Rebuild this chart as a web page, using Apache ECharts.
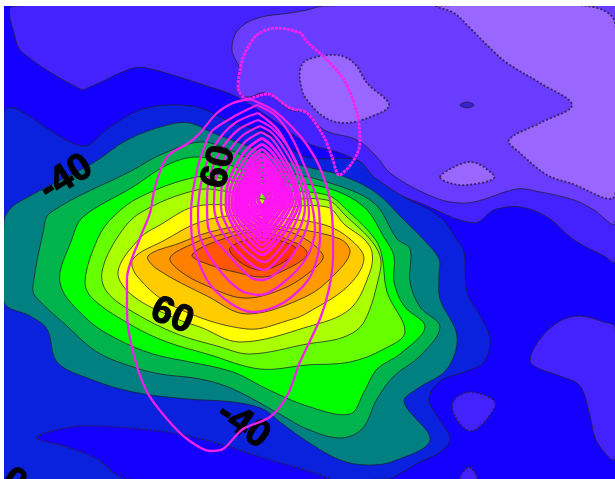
<!DOCTYPE html>
<html><head><meta charset="utf-8">
<style>html,body{margin:0;padding:0;background:#fff}#c{width:615px;height:479px;filter:blur(.6px)}</style>
<script src="https://cdn.jsdelivr.net/npm/echarts@6/dist/echarts.min.js"></script>
</head><body><div id="c"></div>
<script>
// Filled contour levels, outline points
const indigoTop=[[14,6],[15,37],[23,53],[80,89],[90,87],[130,69],[147,68],[213,88],[237,97],[270,118],[307,143],[340,153],[360,163],[384,187],[420,203],[474,223],[494,210],[520,207],[547,217],[574,240],[604,256],[615,262],[615,6]];
const purpleTop=[[232,50],[238,30],[258,18],[290,13],[307,10],[324,6],[615,6],[615,223],[594,210],[574,200],[540,192],[517,189],[474,202],[450,202],[424,193],[390,173],[377,157],[357,140],[324,130],[307,113],[290,110],[265,93],[247,97],[238,90],[240,70]];
const darkSpot=[[460,105],[467,102],[474,105],[467,108]];
const lightTop=[[437,6],[454,13],[470,28],[490,48],[507,63],[540,83],[572,105],[540,123],[509,140],[520,153],[547,175],[570,183],[615,195],[615,23],[587,6]];
const lightBlob=[[300,70],[307,60],[337,55],[354,63],[367,83],[389,105],[370,117],[344,123],[324,117],[307,100],[302,90]];
const lightSmall=[[440,177],[454,167],[470,162],[484,167],[494,178],[467,185],[450,183]];
const indigoRight=[[530,361],[540,339],[560,321],[580,316],[604,322],[615,327],[615,459],[597,442],[590,416],[580,386],[560,376],[540,369]];
const indigoSmall=[[452,407],[457,397],[472,392],[495,402],[487,419],[472,431],[460,424]];
const indigoTip=[[460,479],[469,467],[477,479]];
const darkBlue=[[4,113],[82,146],[110,127],[140,110],[170,105],[200,108],[233,123],[267,133],[307,157],[357,160],[374,177],[404,197],[440,217],[457,240],[464,252],[467,292],[480,316],[490,339],[484,362],[467,371],[440,381],[429,399],[439,419],[450,439],[440,452],[420,462],[394,477],[390,479],[4,479]];
const blueInner=[[37,438],[60,429],[93,426],[167,432],[213,442],[267,459],[308,471],[327,479],[127,479],[97,459],[67,447]];
const teal=[[4,222],[7,213],[17,203],[93,163],[127,140],[167,125],[190,123],[213,133],[240,143],[277,158],[307,167],[340,175],[375,192],[404,220],[424,240],[439,259],[439,276],[440,299],[457,336],[447,369],[417,389],[404,402],[430,440],[394,461],[367,465],[340,460],[308,442],[280,422],[263,409],[233,402],[187,399],[133,392],[90,379],[57,362],[47,329],[30,316],[4,302]];
const green=[[43,233],[50,213],[133,170],[160,155],[200,142],[230,150],[270,168],[327,182],[374,203],[397,239],[410,249],[410,282],[420,307],[440,327],[420,356],[394,376],[377,399],[362,429],[340,438],[307,429],[283,416],[233,389],[200,379],[160,374],[130,366],[97,352],[67,326],[35,296],[33,286]];
const lime=[[72,239],[83,217],[133,187],[167,165],[197,157],[230,165],[270,180],[327,188],[364,207],[385,239],[394,256],[394,282],[404,306],[425,327],[400,354],[377,369],[364,392],[350,414],[307,406],[267,389],[233,372],[190,362],[153,354],[117,339],[87,319],[60,283]];
const chartreuse=[[85,281],[98,238],[113,217],[140,197],[197,177],[230,180],[270,190],[327,195],[350,213],[375,239],[382,256],[387,292],[405,332],[384,349],[350,362],[307,365],[260,369],[207,354],[167,342],[133,326],[93,299]];
const yellowGreen=[[102,272],[117,238],[140,213],[197,190],[230,192],[270,200],[327,200],[347,217],[370,239],[380,256],[380,272],[364,322],[344,337],[307,344],[250,354],[217,346],[177,334],[133,312],[107,292]];
const yellow=[[118,272],[140,238],[160,225],[193,207],[230,205],[270,208],[327,207],[345,225],[364,239],[372,252],[370,272],[350,309],[307,327],[240,342],[200,327],[177,319],[133,296]];
const gold=[[133,259],[165,240],[200,222],[240,215],[280,218],[325,225],[350,239],[364,259],[347,287],[307,313],[293,319],[247,329],[173,306],[137,276]];
const orange=[[148,256],[180,243],[210,232],[250,225],[290,228],[340,239],[350,252],[337,272],[307,296],[247,314],[207,296],[157,269]];
const deepOrange=[[170,258],[190,245],[215,236],[250,230],[290,232],[323,255],[310,272],[280,290],[243,298],[205,285],[180,271]];
const redOrange=[[192,255],[220,240],[260,232],[300,245],[307,255],[285,270],[263,277],[235,272],[210,265]];
const red=[[230,248],[260,238],[295,247],[290,258],[262,270],[240,262]];
// Magenta contours
const mTop=[[238,83],[243,58],[257,35],[277,28],[300,33],[307,42],[324,57],[344,80],[357,113],[360,143],[352,163],[339,175],[332,157],[324,137],[307,113],[290,108],[267,94],[247,99],[238,88]];
const m1=[[250,99],[233,103],[217,113],[200,133],[190,142],[167,157],[155,187],[150,213],[140,238],[127,279],[127,312],[133,352],[147,392],[167,419],[187,439],[210,451],[223,449],[243,429],[270,417],[287,396],[300,362],[320,319],[329,289],[333,256],[333,239],[330,200],[320,168],[307,145],[293,128],[273,110]];
const m2=[[257,105],[233,117],[213,130],[207,140],[197,170],[191,213],[192,238],[207,280],[230,303],[253,312],[283,303],[310,277],[320,237],[318,203],[307,172],[292,138],[275,115]];
const m3=[[258,113],[235,123],[215,145],[203,175],[198,213],[200,237],[217,267],[240,290],[260,295],[283,283],[307,257],[315,230],[310,197],[297,165],[278,130]];
const m4=[[258,120],[238,130],[221,150],[210,175],[207,200],[208,227],[227,253],[250,277],[262,280],[283,267],[303,237],[309,213],[303,180],[290,150],[272,128]];
const m5=[[260,126],[242,136],[226,156],[216,180],[214,205],[220,228],[236,250],[255,267],[264,270],[281,256],[298,232],[305,207],[298,175],[285,150],[272,133]];
const m6=[[261,132],[245,142],[231,162],[222,185],[221,207],[228,228],[243,248],[258,260],[265,262],[280,248],[294,226],[301,205],[295,178],[283,155],[272,139]];
const m7=[[262,138],[248,148],[235,167],[227,188],[226,206],[233,226],[247,244],[262,255],[278,241],[291,222],[299,203],[293,180],[281,158],[271,145]];
const m8=[[262,144],[250,153],[238,171],[230,190],[229,206],[236,224],[250,240],[262,250],[276,237],[289,219],[296,201],[291,182],[279,162],[270,150]];
const m9=[[262,149],[252,157],[241,174],[233,192],[232,206],[239,222],[252,236],[262,245],[274,233],[286,216],[293,200],[288,184],[278,166],[269,155]];
const m10=[[262,154],[253,161],[244,177],[236,193],[235,206],[242,220],[254,232],[262,240],[272,229],[283,214],[290,199],[285,186],[276,170],[268,160]];
const m11=[[262,159],[255,165],[246,180],[239,194],[238,206],[245,218],[256,228],[262,235],[270,225],[280,211],[287,198],[282,187],[274,173],[267,164]];
const m12=[[262,164],[256,169],[248,183],[242,195],[241,206],[248,216],[258,224],[262,230],[268,221],[277,209],[284,198],[279,188],[272,176],[266,168]];
const m13=[[262,169],[257,174],[250,186],[245,196],[244,206],[251,214],[259,220],[262,225],[267,217],[274,207],[281,197],[276,189],[270,179],[266,173]];
const m14=[[262,174],[258,178],[252,188],[248,197],[247,205],[253,212],[262,220],[266,213],[271,205],[278,197],[273,190],[268,182],[265,177]];
const m15=[[262,179],[258,184],[254,190],[251,198],[251,204],[256,210],[262,215],[265,209],[269,203],[275,197],[270,191],[266,185]];
const m16=[[262,184],[259,188],[256,193],[254,199],[255,204],[259,208],[262,211],[265,206],[268,201],[271,197],[267,192],[264,188]];
const m17=[[262,189],[259,194],[258,200],[260,204],[262,207],[265,203],[267,198],[264,193]];
// Contour labels
const labelTexts=['-40','60','60','-40','0'];
const labelPoints=[[66,178],[219,167],[172,316],[243,425],[14,483]];
const labelAngles=[32,76,-22,-35,-30];
const labelAbove=[0,1,0,0,0];

const fills=[
 [indigoTop,'#4422ff',0],[purpleTop,'#6a3cff',0],[darkSpot,'#3a22cc',0],
 [lightTop,'#9966ff',1],[lightBlob,'#9966ff',1],[lightSmall,'#9966ff',1],
 [indigoRight,'#4422ff',0],[indigoSmall,'#4422ff',1],[indigoTip,'#4422ff',1],
 [darkBlue,'#0a22dd',0],[blueInner,'#1400ff',1],[teal,'#008080',0],[green,'#00b34d',0],
 [lime,'#00ff00',0],[chartreuse,'#66ff00',0],[yellowGreen,'#aaff00',0],[yellow,'#ffff00',0],
 [gold,'#ffcc00',0],[orange,'#ff9900',0],[deepOrange,'#ff8000',0],[redOrange,'#ff5500',0],[red,'#ff3300',0]
];
const series=fills.map(([pts,color,hatched],i)=>({
 type:'custom',coordinateSystem:'cartesian2d',silent:true,z:2+i*0.01,
 encode:{x:0,y:1},data:pts,
 renderItem(params,api){
  if(params.dataIndex!==0)return null;
  return {type:'polygon',
   clipPath:{type:'rect',shape:{x:params.coordSys.x,y:params.coordSys.y,width:params.coordSys.width,height:params.coordSys.height}},
   shape:{points:pts.map(p=>api.coord(p)),smooth:0.35},
   style:{fill:color,stroke:hatched?'rgba(40,30,70,.85)':'rgba(30,30,50,.75)',lineWidth:hatched?1.8:1,lineDash:hatched?[2,2]:null}};
 }}));
[0,1].forEach(layer=>series.push({type:'custom',coordinateSystem:'cartesian2d',silent:true,z:layer?6:4,clip:false,
 encode:{x:0,y:1},data:labelPoints,
 renderItem(params,api){
  const i=params.dataIndex;
  if(labelAbove[i]!==layer)return null;
  const c=api.coord(labelPoints[i]);
  return {type:'text',x:c[0],y:c[1],rotation:labelAngles[i]*Math.PI/180,
   style:{text:labelTexts[i],fill:'#000',stroke:'#000',lineWidth:1,font:'bold 38px "Liberation Sans"',align:'center',verticalAlign:'middle'}};
 }}));
[m1,m2,m3,m4,m5,m6,m7,m8,m9,m10,m11,m12,m13,m14,m15,m16,m17].forEach((l,i)=>series.push({
 type:'line',silent:true,z:5,data:l.concat([l[0]]),smooth:0.3,symbol:'none',
 lineStyle:{color:i<6?'#f020e8':'#ff14f4',width:i<6?2.3:i<9?2.8:3.8}}));
series.push({type:'line',silent:true,z:5,data:mTop.concat([mTop[0]]),smooth:0.3,symbol:'none',
 lineStyle:{color:'#ff20f0',width:2.8,type:[3,1]}});

echarts.init(document.getElementById('c'),null,{renderer:'canvas'}).setOption({
 animation:false,
 grid:{left:4,top:6,right:0,bottom:0,show:true,backgroundColor:'#1400ff',borderWidth:0},
 xAxis:{type:'value',min:4,max:615,show:false},
 yAxis:{type:'value',min:6,max:479,inverse:true,show:false},
 series
});
</script></body></html>
